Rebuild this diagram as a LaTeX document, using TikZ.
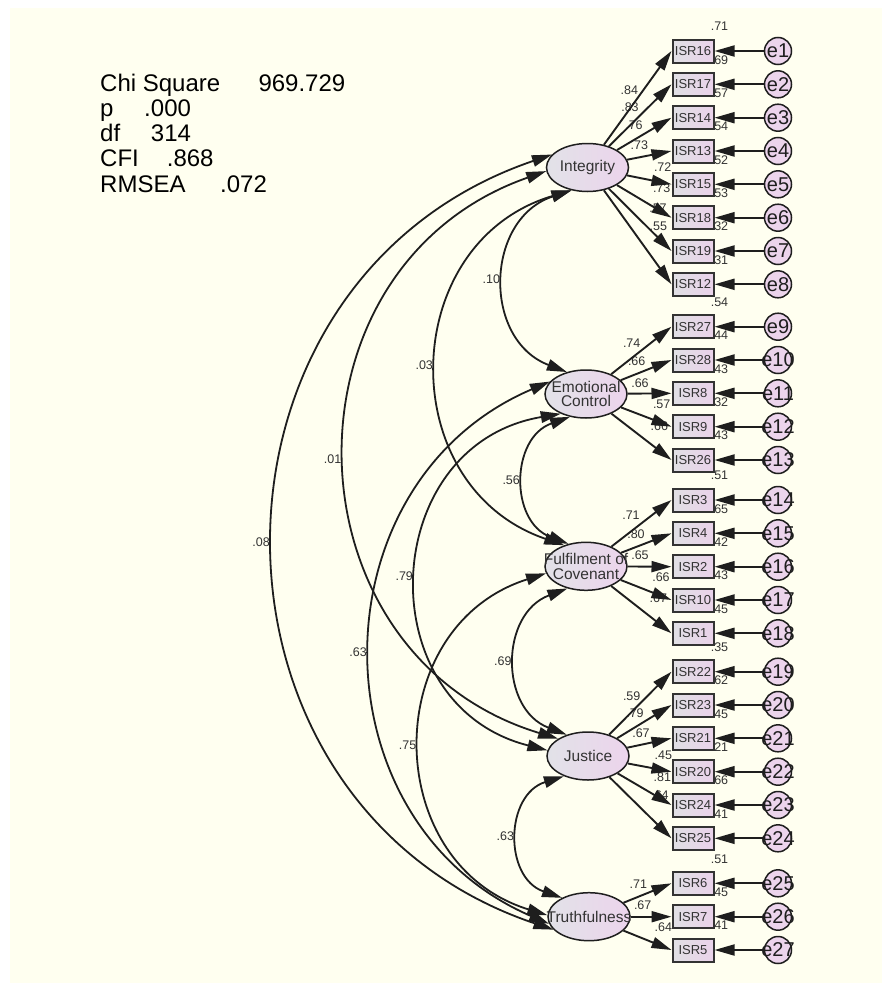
\documentclass[tikz,border=0pt]{standalone}
\usepackage{fontspec}
\setmainfont{Liberation Sans}
\usepackage{xcolor}
\usepackage{tikz}
\usetikzlibrary{arrows.meta, shapes.geometric}
\definecolor{cream}{RGB}{255,255,240}
\definecolor{latl}{RGB}{226,226,232}
\definecolor{latr}{RGB}{236,212,236}
\definecolor{boxl}{RGB}{224,224,228}
\definecolor{boxr}{RGB}{234,210,234}
\definecolor{errfill}{RGB}{236,212,236}
\definecolor{ink}{RGB}{30,30,30}

\begin{document}
\begin{tikzpicture}[x=1pt, y=-1pt,
    latent/.style={ellipse, draw=ink, line width=1.5pt, minimum width=82pt, minimum height=48pt, inner sep=0pt, left color=latl, right color=latr},
    lattxt/.style={font=\fontsize{15.5}{14.5}\selectfont, text=black!80, align=center, inner sep=0pt},
    ind/.style={rectangle, draw=black!80, line width=2pt, minimum width=41pt, minimum height=23pt, inner sep=0pt, left color=boxl, right color=boxr, text=black!80, font=\fontsize{13}{13}\selectfont},
    err/.style={circle, draw=ink, line width=1.5pt, minimum size=27pt, inner sep=0pt, fill=errfill},
    etxt/.style={font=\fontsize{20}{20}\selectfont, text=ink, inner sep=0pt},
    num/.style={font=\fontsize{12.5}{12.5}\selectfont, text=black!80, inner sep=0pt},
    stat/.style={font=\fontsize{24}{24}\selectfont, inner sep=0pt, anchor=base west},
    load/.style={-{Triangle[length=20pt,width=11pt]}, line width=1.9pt, draw=ink},
    cov/.style={{Triangle[length=20pt,width=11.5pt]}-{Triangle[length=20pt,width=11.5pt]}, line width=1.8pt, draw=ink},
    covlab/.style={num, left=4pt}]
  \useasboundingbox (0,0) rectangle (882,985);
  \fill[cream] (10,8) rectangle (882,983);
  % Fit indices
  \foreach \s/\g/\v [count=\k from 0] in {Chi Square/38.3/969.729, p/30.7/.000, df/30.7/314, CFI/28/.868, RMSEA/34.7/.072}
    \node[stat] (stat\k) at (100,{91+25.3*\k}) {\s\hspace{\g pt}\v};
  % Latent factors
  \node[latent, label={[lattxt]center:Integrity}] (int) at (587.5,167.5) {};
  \node[latent, label={[lattxt]center:Emotional\\Control}] (emo) at (586,394) {};
  \node[latent, label={[lattxt]center:Fulfilment of\\Covenant}] (ful) at (586,566.3) {};
  \node[latent, label={[lattxt]center:Justice}] (jus) at (588,756) {};
  \node[latent, label={[lattxt]center:Truthfulness}] (tru) at (589,916.7) {};
  % Indicators: factor/item/y/R2/loading/label x/label y/error
  \def\items{int/16/51/.71/.84/629.3/90/1, int/17/84.3/.69/.83/630/106.7/2,
    int/14/117.7/.57/.76/634/125/3, int/13/151/.54/.73/639.3/145/4,
    int/15/184.3/.52/.72/662.7/166.7/5, int/18/217.7/.53/.73/661.7/188.3/6,
    int/19/251/.32/.57/658/208.3/7, int/12/284.3/.31/.55/658.3/226.7/8,
    emo/27/326.7/.54/.74/631.7/342.7/9, emo/28/360/.44/.66/636.7/360.7/10,
    emo/8/393.3/.43/.66/640/382.7/11, emo/9/426.7/.32/.57/661.7/404/12,
    emo/26/460/.43/.66/659.3/426/13,
    ful/3/500/.51/.71/631/515/14, ful/4/533.3/.65/.80/636/534.3/15,
    ful/2/566.7/.42/.65/640/555/16, ful/10/600/.43/.66/661/576.7/17,
    ful/1/633.3/.45/.67/658.3/598.3/18,
    jus/22/671.7/.35/.59/631.7/695.7/19, jus/23/705/.62/.79/635/713.3/20,
    jus/21/738.3/.45/.67/641/733.3/21, jus/20/771.7/.21/.45/663.3/755/22,
    jus/24/805/.66/.81/662.3/776.7/23, jus/25/838.3/.41/.64/660/795/24,
    tru/6/883.3/.51/.71/638.3/884/25, tru/7/916.7/.45/.67/642.7/905/26,
    tru/5/950/.41/.64/663.3/927.3/27}
  \foreach \fac/\isr/\yy/\rsq/\lod/\lx/\ly/\en in \items {
    \node[ind] (isr\isr) at (693,\yy) {ISR\isr};
    \node[err, label={[etxt]center:e\en}] (e\en) at (778,\yy) {};
    \node[num, xshift=5pt, yshift=12pt] (r\isr) at (isr\isr.north east) {\rsq};
    \node[num] (l\isr) at (\lx,\ly) {\lod};
  }
  % Loadings and error terms
  \foreach \fac/\isr/\yy/\rsq/\lod/\lx/\ly/\en in \items {
    \draw[load] (\fac) -- (isr\isr.west);
    \draw[load] (e\en) -- (isr\isr);
  }
  % Covariances
  \foreach \pa/\pb/\bend/\lsn/\val [count=\k] in {int.235/emo.131/70.5/1.28/.10,
      int.235/ful.136/72.3/1.31/.03, int.185/jus.150/71.9/1.30/.01,
      int.160/tru.200/71.3/1.29/.08, emo.235/ful.128/69.8/1.27/.56,
      emo.218/jus.172/78.1/1.41/.79, emo.161/tru.190/66.8/1.22/.63,
      ful.190/tru.178/72.6/1.31/.75, ful.230/jus.135/69.2/1.26/.69,
      jus.220/tru.145/71.8/1.30/.63}
    \draw[cov] (\pa) to[bend right=\bend, looseness=\lsn] node[covlab] (cov\k) {\val} (\pb);
\end{tikzpicture}
\end{document}
